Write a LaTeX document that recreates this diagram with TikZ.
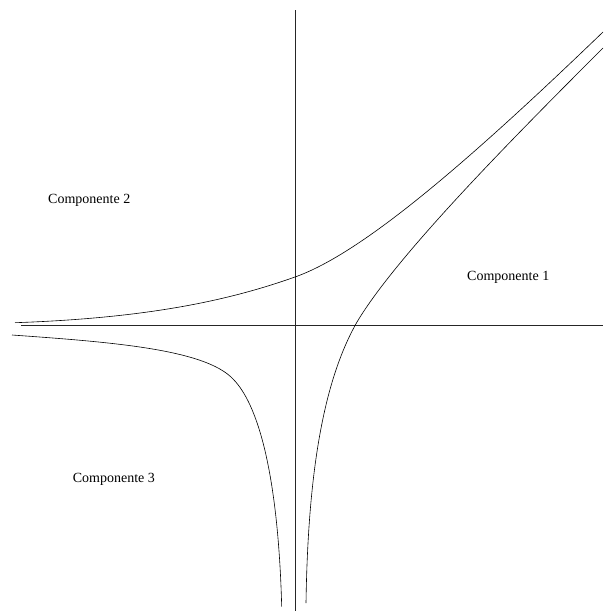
\documentclass[tikz,border=0pt]{standalone}
\usepackage{fontspec}
\setmainfont{Liberation Serif}
\begin{document}
\begin{tikzpicture}[x=1pt,y=-1pt,
  axis/.style={line width=0.7pt,black!85},
  branch/.style={line width=0.6pt,black},
  lbl/.style={font=\fontsize{14}{16}\selectfont,anchor=base west,inner sep=0pt}]
\useasboundingbox (0,0) rectangle (603,611);
% axes
\coordinate (hL) at (21,325);
\coordinate (hR) at (603,325);
\coordinate (vT) at (295,10);
\coordinate (vB) at (295,611);
\draw[axis] (hL) -- (hR);
\draw[axis] (vT) -- (vB);
% branch points
\coordinate (a0) at (15,322.7);
\coordinate (a1) at (295,277);
\coordinate (a2) at (603,32);
\coordinate (b0) at (603,48);
\coordinate (b1) at (357,322);
\coordinate (b2) at (306,603);
\coordinate (c0) at (12,335);
\coordinate (c1) at (233,379);
\coordinate (c2) at (281.7,606.7);
% Componente 2
\draw[branch] (a0) .. controls (150,318) and (230,300) .. (a1)
                   .. controls (363,253) and (470,160) .. (a2);
% Componente 1
\draw[branch] (b0) .. controls (513,138) and (397,255) .. (b1)
                   .. controls (324,380) and (308,470) .. (b2);
% Componente 3
\draw[branch] (c0) .. controls (110,342) and (205,349) .. (c1)
                   .. controls (257,403) and (278,470) .. (c2);
% labels
\node[lbl] (c2l) at (48,203.3) {Componente 2};
\node[lbl] (c1l) at (467,280.7) {Componente 1};
\node[lbl] (c3l) at (72.7,482) {Componente 3};
\end{tikzpicture}
\end{document}
